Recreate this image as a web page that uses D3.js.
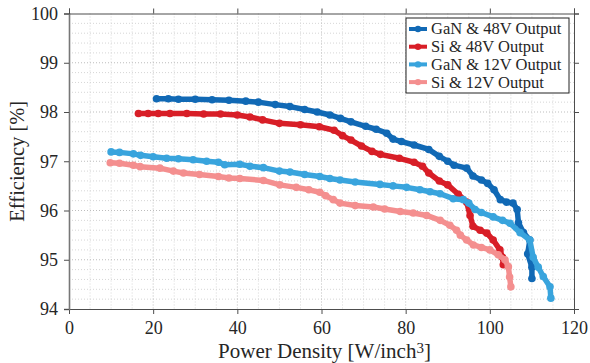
<!DOCTYPE html>
<html>
<head>
<meta charset="utf-8">
<script src="https://cdn.jsdelivr.net/npm/d3@7"></script>
<style>
  body { margin: 0; background: #fff; }
  text { font-family: "Liberation Serif", "Times New Roman", serif; fill: #262626; }
</style>
</head>
<body>
<div id="chart"></div>
<script>
// data: [power density W/inch3, efficiency %]
var gan48 = [[20.8,98.27],[23.6,98.27],[26,98.26],[30,98.26],[34,98.25],[38,98.24],[42,98.22],[45,98.2],[49,98.15],[52.5,98.11],[56,98.05],[59,98.0],[62,97.94],[64.5,97.87],[67,97.8],[70.5,97.71],[73,97.65],[75.5,97.57],[77,97.45],[79,97.4],[82,97.33],[85.5,97.24],[88,97.1],[90,97.0],[91.5,96.92],[94.5,96.86],[96,96.7],[98,96.62],[99.5,96.55],[101,96.42],[102.5,96.22],[104,96.17],[105.5,96.15],[106.5,96.02],[106.8,95.75],[108,95.55],[109.5,95.4],[109,95.12],[110,94.85],[110,94.62]];
var si48 = [[16.5,97.97],[18.8,97.97],[21.2,97.97],[24,97.97],[28,97.97],[32,97.96],[36,97.96],[40,97.94],[43,97.9],[46,97.84],[50,97.77],[55,97.74],[59.5,97.7],[63,97.63],[65,97.52],[67,97.43],[69.5,97.31],[72,97.2],[74,97.14],[78.5,97.06],[82,96.98],[84,96.9],[85.5,96.76],[88,96.6],[90,96.52],[92.5,96.33],[94.5,96.17],[95.3,95.9],[96,95.68],[97.7,95.6],[99.3,95.54],[100.8,95.4],[102.4,95.2],[103,95.05],[103.2,94.9]];
var gan12 = [[10,97.19],[12,97.18],[15.3,97.15],[17,97.12],[20,97.09],[23.2,97.06],[26,97.05],[29.5,97.03],[32.7,97.0],[35.5,96.98],[37,96.93],[40.6,96.94],[43,96.9],[46.2,96.87],[50,96.8],[52.5,96.78],[56,96.73],[59.6,96.69],[62,96.65],[64.4,96.62],[68,96.58],[73.9,96.53],[77,96.5],[80.2,96.47],[83.4,96.42],[85.8,96.38],[88.2,96.34],[91.3,96.24],[93.7,96.22],[95,96.15],[96.5,96.02],[98,95.96],[100.8,95.87],[103,95.8],[104.8,95.74],[107.2,95.55],[109.5,95.4],[110.3,95.05],[111.5,94.85],[112.7,94.66],[114.3,94.45],[114.5,94.22]];
var si12 = [[9.8,96.97],[12,96.96],[15.3,96.92],[16.9,96.89],[21.6,96.86],[24.8,96.8],[27.2,96.76],[31,96.73],[35.5,96.69],[38,96.66],[40.6,96.65],[46.2,96.61],[50.1,96.52],[54,96.47],[57,96.42],[59.6,96.37],[61,96.3],[62.8,96.22],[64.4,96.15],[68,96.1],[72.3,96.07],[75,96.03],[78.7,95.98],[81.8,95.95],[85,95.9],[88.2,95.8],[90.5,95.7],[92.1,95.6],[93,95.5],[94.5,95.4],[96.1,95.3],[98,95.25],[100,95.2],[102,95.1],[103.6,95.0],[104.4,94.86],[104.7,94.65],[105,94.45]];

var seriesNames = ['GaN & 48V Output','Si & 48V Output','GaN & 12V Output','Si & 12V Output'];
var seriesData = [gan48, si48, gan12, si12];
var colorList = ['#1169b5','#d81e27','#39a4dd','#f48f8f'];

var xTicks = [0,20,40,60,80,100,120];
var yTicks = [94,95,96,97,98,99,100];

var svgWidth = 590;
var svgHeight = 363;
var margin = ({top: 13.5, right: 16, bottom: 54, left: 69});
var w = svgWidth - margin.left - margin.right;
var h = svgHeight - margin.top - margin.bottom;

var svg = d3.select("#chart")
    .append("svg")
    .attr("width", svgWidth)
    .attr("height", svgHeight);

var plot = svg.append('g')
    .attr("transform","translate("+margin.left+","+margin.top+")");

var xScale = d3.scaleLinear().domain([0,120]).range([0,w]);
var yScale = d3.scaleLinear().domain([94,100]).range([h,0]);

// minor grid (every 5 W/inch3, every 0.2 %)
plot.append('g').selectAll('line')
    .data(d3.range(5,120,5).filter(d => d % 20 != 0))
    .enter().append('line')
    .attr('x1', d => xScale(d)).attr('x2', d => xScale(d))
    .attr('y1', 0).attr('y2', h)
    .attr('stroke','#d6d6d6').attr('stroke-dasharray','1,2');

plot.append('g').selectAll('line')
    .data(d3.range(94.2,100,0.2).filter(d => Math.abs(d - Math.round(d)) > 0.01))
    .enter().append('line')
    .attr('y1', d => yScale(d)).attr('y2', d => yScale(d))
    .attr('x1', 0).attr('x2', w)
    .attr('stroke','#d6d6d6').attr('stroke-dasharray','1,2');

// major grid
plot.append('g').selectAll('line')
    .data(xTicks.slice(1,-1))
    .enter().append('line')
    .attr('x1', d => xScale(d)).attr('x2', d => xScale(d))
    .attr('y1', 0).attr('y2', h)
    .attr('stroke','#bdbdbd').attr('stroke-dasharray','1,2');

plot.append('g').selectAll('line')
    .data(yTicks.slice(1,-1))
    .enter().append('line')
    .attr('y1', d => yScale(d)).attr('y2', d => yScale(d))
    .attr('x1', 0).attr('x2', w)
    .attr('stroke','#bdbdbd').attr('stroke-dasharray','1,2');

// curves
var line = d3.line()
    .x(d => xScale(d[0]))
    .y(d => yScale(d[1]));

var curves = plot.selectAll('.curve')
    .data(seriesData)
    .enter().append('g')
    .classed('curve', true);

curves.append('path')
    .attr('d', d => line(d))
    .attr('fill','none')
    .attr('stroke', (d,i) => colorList[i])
    .attr('stroke-width', 5.5)
    .attr('stroke-linejoin','round')
    .attr('stroke-linecap','round');

curves.each(function(d,i) {
    d3.select(this).selectAll('circle')
        .data(d)
        .enter().append('circle')
        .attr('cx', p => xScale(p[0]))
        .attr('cy', p => yScale(p[1]))
        .attr('r', 3.8)
        .attr('fill', colorList[i]);
});

// axes, ticks outward on all four sides
var axisColor = '#4d4d4d';

var xAxis = plot.append('g')
    .attr('transform','translate(0,'+h+')')
    .call(d3.axisBottom(xScale).tickValues(xTicks).tickSize(5).tickPadding(7.5).tickFormat(d3.format('d')));

var yAxis = plot.append('g')
    .call(d3.axisLeft(yScale).tickValues(yTicks).tickSize(5).tickPadding(6).tickFormat(d3.format('d')));

var topAxis = plot.append('g')
    .call(d3.axisTop(xScale).tickValues(xTicks).tickSize(5).tickFormat(''));

var rightAxis = plot.append('g')
    .attr('transform','translate('+w+',0)')
    .call(d3.axisRight(yScale).tickValues(yTicks).tickSize(5).tickFormat(''));

plot.selectAll('.domain, .tick line').attr('stroke', axisColor);
yAxis.select('.domain').attr('stroke','#777').attr('stroke-width',1.6);
plot.selectAll('.tick text')
    .attr('font-size', 18)
    .attr('fill','#262626');

// axis titles
var xTitle = svg.append('text')
    .attr('x', margin.left + w/2 + 3)
    .attr('y', 358)
    .attr('text-anchor','middle')
    .attr('font-size', 21);
xTitle.append('tspan').text('Power Density [W/inch');
xTitle.append('tspan').attr('font-size', 15).attr('dy', -5).text('3');
xTitle.append('tspan').attr('dy', 5).text(']');

svg.append('text')
    .attr('transform','translate(24,'+(margin.top + h/2)+') rotate(-90)')
    .attr('text-anchor','middle')
    .attr('font-size', 20.5)
    .text('Efficiency [%]');

// legend
var legend = svg.append('g')
    .attr('transform','translate(406,18)');

legend.append('rect')
    .attr('width', 163)
    .attr('height', 75)
    .attr('fill','#fff')
    .attr('stroke','#222')
    .attr('stroke-width', 1);

var items = legend.selectAll('.item')
    .data(seriesNames)
    .enter().append('g')
    .classed('item', true)
    .attr('transform', (d,i) => 'translate(0,'+(11 + i*17.7)+')');

items.append('line')
    .attr('x1', 3).attr('x2', 21)
    .attr('stroke', (d,i) => colorList[i])
    .attr('stroke-width', 4);

items.append('circle')
    .attr('cx', 12)
    .attr('r', 3.2)
    .attr('fill', (d,i) => colorList[i]);

items.append('text')
    .attr('x', 25)
    .attr('dy', '0.33em')
    .attr('font-size', 16.5)
    .text(d => d);
</script>
</body>
</html>
